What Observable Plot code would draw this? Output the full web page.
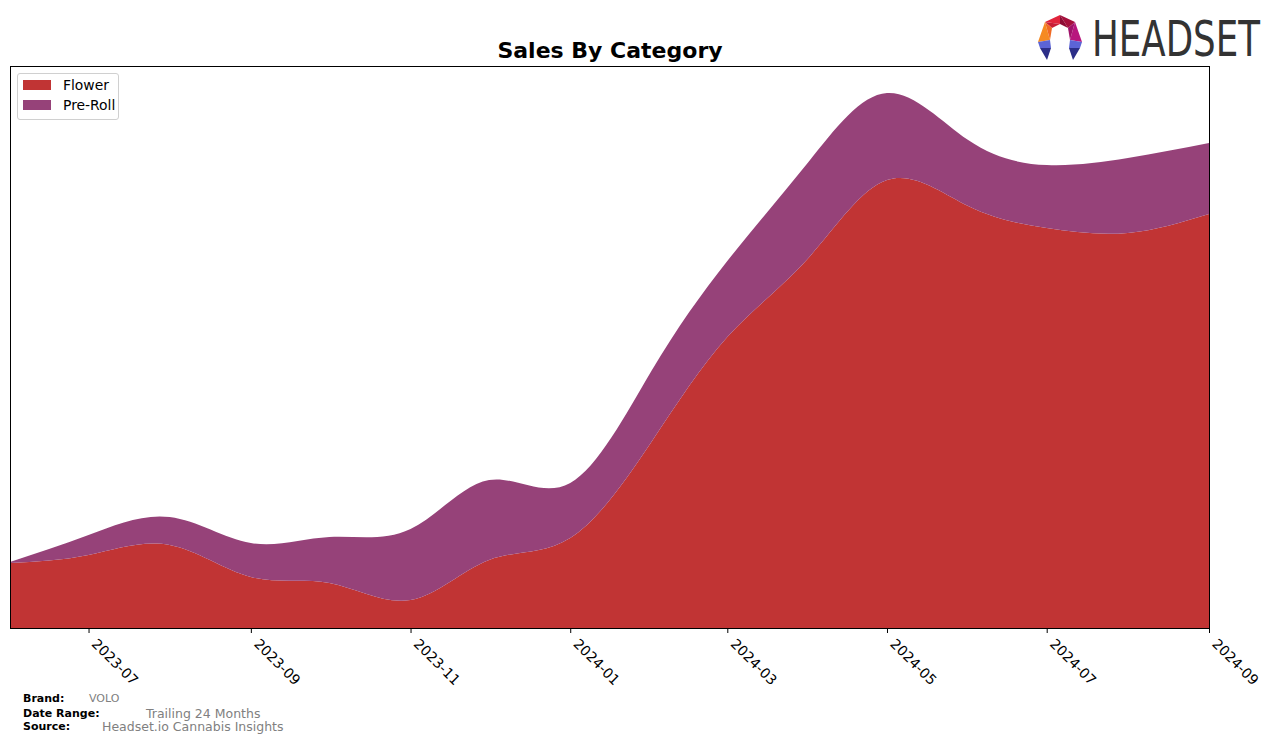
<!DOCTYPE html>
<html>
<head>
<meta charset="utf-8">
<script src="https://cdn.jsdelivr.net/npm/d3@7"></script>
<script src="https://cdn.jsdelivr.net/npm/@observablehq/plot@0.6"></script>
<style>
  html, body { margin: 0; padding: 0; background: #fff; }
  #wrap { position: relative; width: 1276px; height: 743px; font-family: "DejaVu Sans", sans-serif; overflow: hidden; }
  #chart { position: absolute; left: 0; top: 0; }
  .title { position: absolute; top: 40px; left: 0; width: 1220px; text-align: center; font-size: 22px; font-weight: bold; color: #000; line-height: 1; }
  .legend { position: absolute; left: 17px; top: 73px; width: 100px; height: 45px; border: 1px solid #d0d0d0; border-radius: 3px; background: rgba(255,255,255,0.85); font-size: 13.9px; }
  .legend .row { position: absolute; left: 5px; height: 16px; display: flex; align-items: center; }
  .legend .sw { width: 28px; height: 10px; margin-right: 12px; }
  .foot { position: absolute; font-size: 11px; white-space: nowrap; }
  .foot b { color: #000; }
  .gray { color: #808080; }
  #brandtext { position: absolute; left: 1092px; top: 15px; font-family: "DejaVu Sans", sans-serif; font-size: 49px; line-height: 1; color: #333; white-space: nowrap; transform-origin: 0 0; }
</style>
</head>
<body>
<div id="wrap">
  <div id="chart"></div>
  <div class="title">Sales By Category</div>
  <div class="legend" id="legend"></div>
  <div class="foot" style="left:23px; top:692px;"><b>Brand:</b></div>
  <div class="foot gray" style="left:89px; top:692px; font-size:11px;">VOLO</div>
  <div class="foot" style="left:23px; top:707px;"><b>Date Range:</b></div>
  <div class="foot gray" style="left:146px; top:706px; font-size:12.5px;">Trailing 24 Months</div>
  <div class="foot" style="left:23px; top:720px;"><b>Source:</b></div>
  <div class="foot gray" style="left:102px; top:719px; font-size:12.5px;">Headset.io Cannabis Insights</div>
  <svg style="position:absolute; left:1037px; top:14px;" width="48" height="48" viewBox="0 0 48 48">
    <polygon points="8,8 23,1 23,10" fill="#e1243c"/>
    <polygon points="8,8 23,10 15,14" fill="#c81d36"/>
    <polygon points="23,1 38,8 31,14" fill="#a5103c"/>
    <polygon points="23,1 31,14 23,10" fill="#8e0d35"/>
    <polygon points="38,8 45,28 33,26" fill="#b8177e"/>
    <polygon points="38,8 33,26 31,14" fill="#a0126a"/>
    <polygon points="8,8 1,28 13,26" fill="#f58a22"/>
    <polygon points="8,8 13,26 15,14" fill="#f06a24"/>
    <polygon points="1,28 13,26 14,34 3,34" fill="#5c64d6"/>
    <polygon points="3,34 14,34 10,46" fill="#2c2e88"/>
    <polygon points="45,28 33,26 32,34 43,34" fill="#5c64d6"/>
    <polygon points="43,34 32,34 36,46" fill="#2c2e88"/>
  </svg>
  <div id="brandtext">HEADSET</div>
</div>
<script>
const months  = ["2023-06","2023-07","2023-08","2023-09","2023-10","2023-11","2023-12","2024-01","2024-02","2024-03","2024-04","2024-05","2024-06","2024-07","2024-08","2024-09"];
const flower  = [65, 73, 83, 51, 45, 28, 68, 90, 186, 291, 370, 448, 422, 400, 395, 414];
const preRoll = [1, 20, 28, 34, 46, 71, 80, 55, 71, 76, 96, 87, 66, 63, 75, 71];
const categories = ["Flower", "Pre-Roll"];
const colors = ["#c13434", "#964279"];
const tickMonths = ["2023-07","2023-09","2023-11","2024-01","2024-03","2024-05","2024-07","2024-09"];

const parse = d3.utcParse("%Y-%m");
const rows = [];
months.forEach((m, i) => {
  rows.push({date: parse(m), category: "Flower", value: flower[i]});
  rows.push({date: parse(m), category: "Pre-Roll", value: preRoll[i]});
});
const tickDates = tickMonths.map(parse);

const chart = Plot.plot({
  width: 1276,
  height: 743,
  marginTop: 66,
  marginLeft: 10,
  marginRight: 67,
  marginBottom: 115,
  style: {fontFamily: "DejaVu Sans, sans-serif", fontSize: "14px", color: "#000", background: "transparent"},
  x: {type: "utc", domain: [parse(months[0]), parse(months[months.length - 1])], label: null},
  y: {domain: [0, 562], axis: null},
  color: {domain: categories, range: colors},
  marks: [
    Plot.areaY(rows, {x: "date", y: "value", fill: "category", order: categories, curve: "natural"}),
    Plot.frame({stroke: "#000", strokeWidth: 1}),
    Plot.axisX({ticks: tickDates, tickFormat: () => "", tickSize: 5, label: null}),
    Plot.axisX({ticks: tickDates, tickFormat: d3.utcFormat("%Y-%m"), tickRotate: 45, tickSize: 0, tickPadding: 13, dx: 5, fontSize: 14, label: null})
  ]
});
document.getElementById("chart").appendChild(chart);

const legend = document.getElementById("legend");
categories.forEach((c, i) => {
  const row = document.createElement("div");
  row.className = "row";
  row.style.top = (3 + i * 20) + "px";
  row.innerHTML = `<div class="sw" style="background:${colors[i]}"></div><span>${c}</span>`;
  legend.appendChild(row);
});

const bt = document.getElementById("brandtext");
const w = bt.getBoundingClientRect().width;
bt.style.transform = `scaleX(${168 / w})`;
</script>
</body>
</html>
